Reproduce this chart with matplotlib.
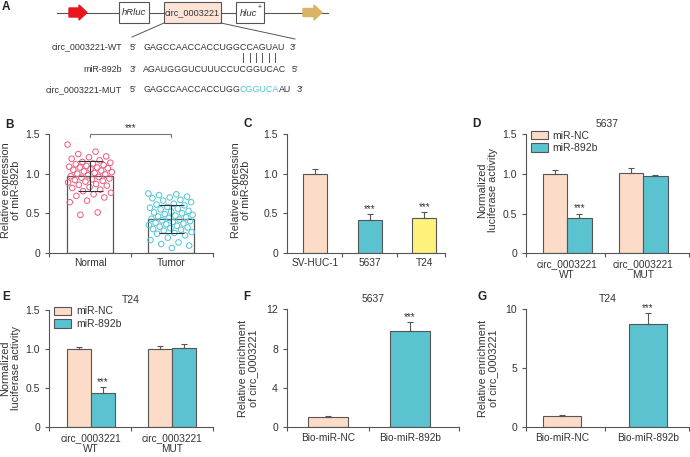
import numpy as np
import matplotlib
matplotlib.use('Agg')
import matplotlib.pyplot as plt
from matplotlib import font_manager
from matplotlib.patches import Rectangle, FancyArrow, Patch

plt.rcParams['font.family'] = ['Liberation Sans', 'DejaVu Sans']
plt.rcParams['font.size'] = 7.3

TXT = '#333333'
AX = '#555555'
PEACH = '#fcdcc8'
TEAL = '#5bc2cf'
YELLOW = '#fff27a'
PINK = '#ee5a7a'
CYAN = '#4fc4d4'

# ---- dados ----
# A: sequencias
seq_wt = 'GAGCCAACCACCUGGCCAGUAU'
seq_mir = 'AGAUGGGUCUUUCCUCGGUCAC'
seq_mut = ['GAGCCAACCACCUGG', 'CGGUCA', 'AU']
pair_idx = [15, 16, 17, 18, 19, 20]

# B: pontos individuais
b_groups = ['Normal', 'Tumor']
b_normal = [1.37, 1.28, 1.25, 1.22, 1.21, 1.19, 1.17, 1.15, 1.14, 1.13, 1.12, 1.11,
            1.10, 1.09, 1.08, 1.08, 1.07, 1.06, 1.05, 1.04, 1.03, 1.02, 1.01, 1.00,
            0.99, 0.98, 0.97, 0.96, 0.95, 0.94, 0.93, 0.92, 0.91, 0.90, 0.89, 0.87,
            0.86, 0.85, 0.83, 0.82, 0.80, 0.78, 0.76, 0.74, 0.72, 0.70, 0.66, 0.64,
            0.51, 0.48]
b_tumor = [0.75, 0.74, 0.73, 0.71, 0.70, 0.69, 0.67, 0.66, 0.64, 0.62, 0.61, 0.60,
           0.58, 0.57, 0.56, 0.55, 0.53, 0.52, 0.51, 0.50, 0.49, 0.48, 0.47, 0.46,
           0.45, 0.44, 0.43, 0.42, 0.41, 0.40, 0.39, 0.38, 0.37, 0.36, 0.35, 0.34,
           0.33, 0.32, 0.31, 0.30, 0.29, 0.28, 0.26, 0.25, 0.24, 0.22, 0.19, 0.16,
           0.13, 0.11, 0.09, 0.06]
b_mean = [0.975, 0.43]
b_sd = [0.19, 0.18]

# C
c_cells = ['SV-HUC-1', '5637', 'T24']
c_vals = [1.0, 0.42, 0.435]
c_err = [0.06, 0.07, 0.08]
c_sig = [False, True, True]

# D / E: luciferase
lu_groups = ['circ_0003221\nWT', 'circ_0003221\nMUT']
d_nc = [1.0, 1.01]
d_nc_err = [0.05, 0.07]
d_mir = [0.44, 0.975]
d_mir_err = [0.06, 0.015]
e_nc = [1.0, 1.0]
e_nc_err = [0.03, 0.04]
e_mir = [0.435, 1.02]
e_mir_err = [0.075, 0.05]

# F / G: enriquecimento
bio_groups = ['Bio-miR-NC', 'Bio-miR-892b']
f_vals = [1.05, 9.8]
f_err = [0.06, 0.9]
g_vals = [0.98, 8.75]
g_err = [0.1, 0.9]

W, H = 690, 457
fig = plt.figure(figsize=(W / 100, H / 100), dpi=100)

# fonte estreita para o painel A, se existir
nomes = {f.name for f in font_manager.fontManager.ttflist}
FAM_A = ['Liberation Sans Narrow', 'DejaVu Sans'] if 'Liberation Sans Narrow' in nomes \
    else ['Liberation Sans', 'DejaVu Sans']


def px_axes(l, t, r, b):
    return fig.add_axes([l / W, 1 - b / H, (r - l) / W, (b - t) / H])


def estilo(ax, xlim, ymax, yticks, ylabels, cats, xpos):
    for s in ['top', 'right']:
        ax.spines[s].set_visible(False)
    for s in ['left', 'bottom']:
        ax.spines[s].set_color(AX)
        ax.spines[s].set_linewidth(0.8)
    ax.set_xlim(xlim)
    ax.set_ylim(0, ymax)
    ax.set_yticks(yticks, ylabels)
    ax.set_xticks([xlim[0], 0.5, xlim[1]])
    ax.set_xticks(xpos, cats, minor=True)
    ax.tick_params(which='major', length=3, width=0.8, color=AX, labelcolor=TXT, labelsize=7.5)
    ax.tick_params(axis='x', which='major', labelbottom=False)
    ax.tick_params(axis='x', which='minor', length=0, pad=4, labelcolor=TXT, labelsize=7.3)
    ax.patch.set_alpha(0)


def estrelas(ax, x, y):
    ax.annotate('***', (x, y), xytext=(0, 0.3), textcoords='offset points',
                ha='center', va='bottom', fontsize=7, color=TXT)


def ylab(x, y, txt):
    fig.text(x / W, 1 - y / H, txt, rotation=90, ha='center', va='center',
             multialignment='center', fontsize=7.8, color=TXT, linespacing=1.1)


def letra(x, y, txt):
    fig.text(x / W, 1 - y / H, txt, ha='left', va='center', fontsize=8.5,
             fontweight='bold', color='#222222')


# ---- painel A ----
axA = fig.add_axes([0, 0, 1, 1])
axA.set_xlim(0, W)
axA.set_ylim(H, 0)
axA.axis('off')
axA.plot([57, 328], [12.5, 12.5], color=AX, lw=0.8, zorder=1)
axA.add_patch(FancyArrow(69, 12.5, 18, 0, width=9, head_width=15, head_length=8,
                         length_includes_head=True, color='#e8141e', zorder=2))
axA.add_patch(FancyArrow(303, 12.5, 19, 0, width=8, head_width=15, head_length=8,
                         length_includes_head=True, color='#d9b463', zorder=2))
axA.add_patch(Rectangle((119, 2), 30, 21, facecolor='white', edgecolor=AX, lw=0.8, zorder=2))
axA.add_patch(Rectangle((164, 1.5), 57, 21.5, facecolor='#fde4d6', edgecolor=AX, lw=0.8, zorder=2))
axA.add_patch(Rectangle((236, 2), 28, 21, facecolor='white', edgecolor=AX, lw=0.8, zorder=2))
axA.plot([164, 132], [23, 37], color=AX, lw=0.7)
axA.plot([221, 295], [23, 39], color=AX, lw=0.7)

axA.text(134, 12.5, 'hRluc', style='italic', ha='center', va='center', fontsize=6.8,
         family=FAM_A, color=TXT, zorder=3)
axA.text(192.5, 12.5, 'circ_0003221', ha='center', va='center', fontsize=6.6,
         family=FAM_A, color=TXT, zorder=3)
axA.text(248.5, 13, 'hluc', style='italic', ha='center', va='center', fontsize=6.8,
         family=FAM_A, color=TXT, zorder=3)
axA.text(259.5, 7, '+', ha='center', va='center', fontsize=5, color=TXT, zorder=3)

fig.canvas.draw()
rend = fig.canvas.get_renderer()


def largura(s, fs, **kw):
    t = axA.text(0, 0, s, fontsize=fs, **kw)
    w = t.get_window_extent(renderer=rend).width
    t.remove()
    return w


fs_seq = 8 * 141 / largura(seq_wt, 8, family=FAM_A)
kw = dict(va='center', fontsize=fs_seq, color=TXT, family=FAM_A)
x0 = 143
rows = [47, 69, 90]
for y, lab in zip(rows, ['circ_0003221-WT', 'miR-892b', 'circ_0003221-MUT']):
    axA.text(122, y, lab, ha='right', **kw)
axA.text(130, rows[0], '5\u2032', **kw)
axA.text(130, rows[1], '3\u2032', **kw)
axA.text(130, rows[2], '5\u2032', **kw)
axA.text(x0, rows[0], seq_wt, **kw)
axA.text(x0, rows[1], seq_mir, **kw)
axA.text(x0 + largura(seq_wt, fs_seq, family=FAM_A) + 5, rows[0], '3\u2032', **kw)
axA.text(x0 + largura(seq_mir, fs_seq, family=FAM_A) + 5, rows[1], '5\u2032', **kw)
xm = x0
for parte, cor in zip(seq_mut, [TXT, CYAN, TXT]):
    axA.text(xm, rows[2], parte, va='center', fontsize=fs_seq, color=cor, family=FAM_A)
    xm += largura(parte, fs_seq, family=FAM_A)
axA.text(xm + 5, rows[2], '3\u2032', **kw)
for k in pair_idx:
    xc = x0 + largura(seq_wt[:k], fs_seq, family=FAM_A) + largura(seq_wt[k], fs_seq, family=FAM_A) / 2
    axA.plot([xc, xc], [53, 62], color=AX, lw=0.7)

# ---- painel B ----
axB = px_axes(49, 134.3, 213, 252.7)
xb = np.arange(2)
axB.bar(xb, b_mean, width=0.57, color='white', edgecolor=AX, lw=0.9, zorder=1)
for i, vals in enumerate([b_normal, b_tumor]):
    n = len(vals)
    offs = ((np.arange(n) * 0.618034) % 1 - 0.5) * 0.56
    axB.scatter(i + offs, vals, s=16, facecolors='none', edgecolors=[PINK, CYAN][i],
                lw=0.7, zorder=2)
axB.errorbar(xb, b_mean, yerr=b_sd, fmt='none', ecolor='#333333', elinewidth=0.8,
             capsize=9, capthick=0.8, zorder=3)
axB.plot([0, 0, 1, 1], [1.46, 1.5, 1.5, 1.46], color='#777777', lw=0.8, clip_on=False)
axB.text(0.5, 1.52, '***', ha='center', va='bottom', fontsize=7, color=TXT)
estilo(axB, (-0.51, 1.52), 1.5, [0, 0.5, 1.0, 1.5], ['0', '0.5', '1.0', '1.5'], b_groups, xb)

# ---- painel C ----
axC = px_axes(287, 134.3, 445, 252.7)
xc3 = np.arange(3)
axC.bar(xc3, c_vals, width=0.44, color=[PEACH, TEAL, YELLOW], edgecolor=AX, lw=0.8)
axC.errorbar(xc3, c_vals, yerr=[np.zeros(3), c_err], fmt='none', ecolor=AX,
             elinewidth=0.8, capsize=2, capthick=0.8)
for i in range(3):
    if c_sig[i]:
        estrelas(axC, xc3[i], c_vals[i] + c_err[i])
estilo(axC, (-0.51, 2.38), 1.5, [0, 0.5, 1.0, 1.5], ['0', '0.5', '1.0', '1.5'], c_cells, xc3)
axC.set_xticks([0.5, 1.5, 2.38])


# ---- paineis D e E ----
def luciferase(ax, nc, nc_err, mir, mir_err, w, xlim, titulo):
    x = np.arange(2)
    ax.bar(x - w / 2, nc, w, color=PEACH, edgecolor=AX, lw=0.8)
    ax.bar(x + w / 2, mir, w, color=TEAL, edgecolor=AX, lw=0.8)
    ax.errorbar(x - w / 2, nc, yerr=[np.zeros(2), nc_err], fmt='none', ecolor=AX,
                elinewidth=0.8, capsize=2, capthick=0.8)
    ax.errorbar(x + w / 2, mir, yerr=[np.zeros(2), mir_err], fmt='none', ecolor=AX,
                elinewidth=0.8, capsize=2, capthick=0.8)
    estrelas(ax, x[0] + w / 2, mir[0] + mir_err[0])
    estilo(ax, xlim, 1.5, [0, 0.5, 1.0, 1.5], ['0', '0.5', '1.0', '1.5'], lu_groups, x)
    ax.set_title(titulo, fontsize=7.5, color=TXT, pad=5)
    hs = [Patch(facecolor=PEACH, edgecolor=AX, lw=0.8), Patch(facecolor=TEAL, edgecolor=AX, lw=0.8)]
    ax.legend(hs, ['miR-NC', 'miR-892b'], loc='upper left', bbox_to_anchor=(0.03, 1.03),
              frameon=False, handlelength=1.6, handleheight=0.9, labelspacing=0.25,
              handletextpad=0.5, borderaxespad=0, borderpad=0, fontsize=7.5, labelcolor=TXT)


axD = px_axes(526, 134.3, 689, 253.3)
luciferase(axD, d_nc, d_nc_err, d_mir, d_mir_err, 0.32, (-0.54, 1.6), '5637')
axE = px_axes(49, 310, 213, 427.3)
luciferase(axE, e_nc, e_nc_err, e_mir, e_mir_err, 0.30, (-0.52, 1.51), 'T24')


# ---- paineis F e G ----
def enriquecimento(ax, vals, err, w, xlim, ymax, yt, titulo):
    x = np.arange(2)
    ax.bar(x, vals, w, color=[PEACH, TEAL], edgecolor=AX, lw=0.8)
    ax.errorbar(x, vals, yerr=[np.zeros(2), err], fmt='none', ecolor=AX,
                elinewidth=0.8, capsize=2, capthick=0.8)
    estrelas(ax, x[1], vals[1] + err[1])
    estilo(ax, xlim, ymax, yt, [str(v) for v in yt], bio_groups, x)
    ax.set_title(titulo, fontsize=7.5, color=TXT, pad=5)


axF = px_axes(287, 309.3, 459, 427.3)
enriquecimento(axF, f_vals, f_err, 0.49, (-0.5, 1.6), 12, [0, 4, 8, 12], '5637')
axG = px_axes(526, 309.3, 689, 427.3)
enriquecimento(axG, g_vals, g_err, 0.44, (-0.42, 1.48), 10, [0, 5, 10], 'T24')

# ---- rotulos ----
ylab(11, 190, 'Relative expression\nof miR-892b')
ylab(241, 190, 'Relative expression\nof miR-892b')
ylab(488, 190, 'Normalized\nluciferase activity')
ylab(11, 368, 'Normalized\nluciferase activity')
ylab(248, 368, 'Relative enrichment\nof circ_0003221')
ylab(488, 368, 'Relative enrichment\nof circ_0003221')

letra(2, 7, 'A')
letra(5, 125, 'B')
letra(243, 124, 'C')
letra(472, 124, 'D')
letra(2, 297, 'E')
letra(243, 297, 'F')
letra(477, 297, 'G')

fig.savefig('out.png', dpi=100)
plt.close(fig)
